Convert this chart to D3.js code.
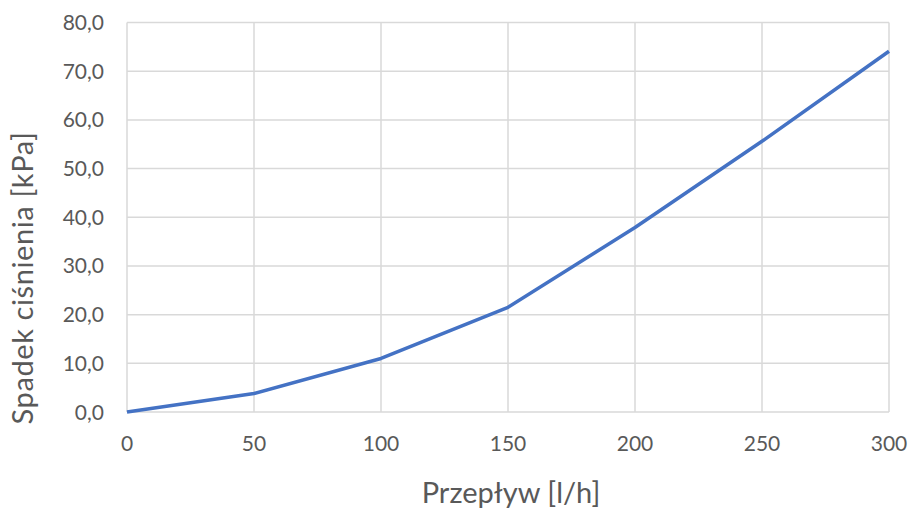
<!DOCTYPE html>
<html>
<head>
<meta charset="utf-8">
<script src="https://cdn.jsdelivr.net/npm/d3@7"></script>
<style>
  body { margin: 0; background: #fff; }
  svg text { font-family: Lato, "Open Sans", sans-serif; fill: #595959; }
</style>
</head>
<body>
<div id="chart"></div>
<script>
// dane z wykresu
const flow = [0, 50, 100, 150, 200, 250, 300];
const pressureDrop = [0, 3.8, 11.0, 21.5, 37.9, 55.6, 74.1];
const xTicks = [0, 50, 100, 150, 200, 250, 300];
const yTicks = [0, 10, 20, 30, 40, 50, 60, 70, 80];
const xTitle = "Przepływ [l/h]";
const yTitle = "Spadek ciśnienia [kPa]";

const width = 909, height = 508;
const margin = { top: 22.5, right: 20, bottom: 96, left: 127 };

const svg = d3.select("#chart").append("svg")
    .attr("width", width)
    .attr("height", height);

const x = d3.scaleLinear().domain([0, 300]).range([margin.left, 889]);
const y = d3.scaleLinear().domain([0, 80]).range([412, margin.top]);

// siatka pionowa
svg.append("g")
    .selectAll("line")
    .data(xTicks)
    .join("line")
    .attr("x1", d => x(d)).attr("x2", d => x(d))
    .attr("y1", y(0)).attr("y2", y(80))
    .style("stroke", "#d9d9d9")
    .style("stroke-width", 1.5);

// siatka pozioma
svg.append("g")
    .selectAll("line")
    .data(yTicks)
    .join("line")
    .attr("x1", x(0)).attr("x2", x(300))
    .attr("y1", d => y(d)).attr("y2", d => y(d))
    .style("stroke", "#d9d9d9")
    .style("stroke-width", 1.5);

// etykiety osi Y
svg.append("g")
    .selectAll("text")
    .data(yTicks)
    .join("text")
    .attr("x", 104)
    .attr("y", d => y(d))
    .attr("dy", "0.36em")
    .attr("text-anchor", "end")
    .style("font-size", "21px")
    .text(d => d3.format(".1f")(d).replace(".", ","));

// etykiety osi X
svg.append("g")
    .selectAll("text")
    .data(xTicks)
    .join("text")
    .attr("x", d => x(d))
    .attr("y", 443)
    .attr("dy", "0.36em")
    .attr("text-anchor", "middle")
    .style("font-size", "21px")
    .text(d => d);

// linia danych
const line = d3.line()
    .x((d, i) => x(flow[i]))
    .y(d => y(d));

svg.append("path")
    .datum(pressureDrop)
    .attr("d", line)
    .style("fill", "none")
    .style("stroke", "#4472c4")
    .style("stroke-width", 3.5)
    .style("stroke-linejoin", "round");

// tytuly osi
svg.append("text")
    .attr("x", 511)
    .attr("y", 503)
    .attr("text-anchor", "middle")
    .style("font-size", "29px")
    .text(xTitle);

svg.append("text")
    .attr("transform", "translate(33,278) rotate(-90)")
    .attr("text-anchor", "middle")
    .style("font-size", "29px")
    .style("letter-spacing", "0.6px")
    .text(yTitle);
</script>
</body>
</html>
